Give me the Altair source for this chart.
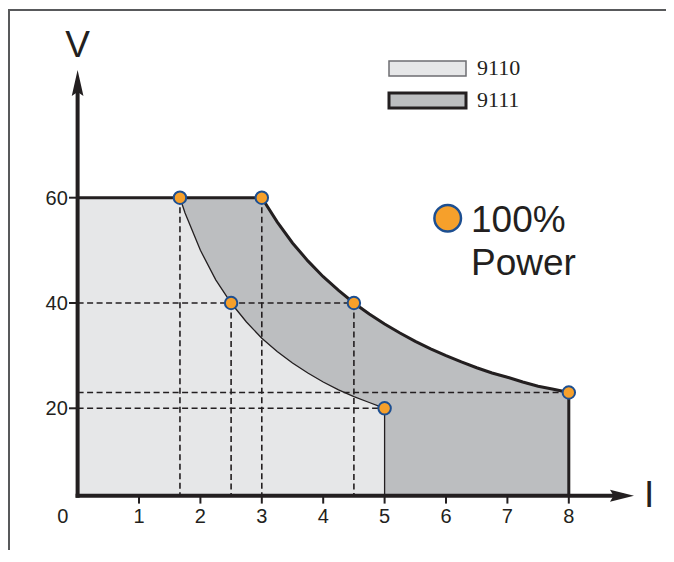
import altair as alt
import pandas as pd

# ---------------- data ----------------
# 9110 (100 W) constant-power boundary
I_9110 = [1.667, 1.75, 2.0, 2.25, 2.5, 2.75, 3.0, 3.25, 3.5, 3.75, 4.0, 4.25, 4.5, 4.75, 5.0]
V_9110 = [60, 57.1, 50, 44.4, 40, 36.4, 33.3, 30.8, 28.6, 26.7, 25, 23.5, 22.2, 21.1, 20]
# 9111 (180 W) constant-power boundary
I_9111 = [3.0, 3.25, 3.5, 3.75, 4.0, 4.25, 4.5, 4.75, 5.0, 5.25, 5.5, 5.75, 6.0, 6.25, 6.5, 6.75, 7.0, 7.25, 7.5, 7.75, 8.0]
V_9111 = [60, 55.4, 51.4, 48, 45, 42.4, 40, 37.9, 36, 34.3, 32.7, 31.3, 30, 28.8, 27.7, 26.7, 25.9, 25.0, 24.2, 23.6, 23.0]
V_MAX = 60

# 100% power points
PTS_I = [1.667, 2.5, 5.0, 3.0, 4.5, 8.0]
PTS_V = [60, 40, 20, 60, 40, 23]

# dashed guide lines
VDASH_I = [1.667, 2.5, 3.0, 4.5]
VDASH_V = [60, 40, 60, 40]
HDASH_V = [40, 23, 20]
HDASH_I = [4.5, 8.0, 5.0]

X_TICKS = [1, 2, 3, 4, 5, 6, 7, 8]
Y_TICKS = [20, 40, 60]
SERIES = ["9110", "9111"]

# axis geometry (data units)
AXIS_V = 3.4        # where the I axis crosses
ARROW_I = 8.866     # centre of the I-axis arrow head
ARROW_V = 81.8      # centre of the V-axis arrow head

# ---------------- styling ----------------
LIGHT = "#e6e7e8"
DARK = "#bcbec0"
INK = "#231f20"
ORANGE = "#f6a02b"
BLUE = "#1d4f91"
SANS = "Liberation Sans"
SERIF = "Liberation Serif"

W, H = 658, 542
xs = alt.Scale(domain=[-1.1336, 9.583], nice=False, zero=False)
ys = alt.Scale(domain=[-6.914, 96.03], nice=False, zero=False)


def X(f="I"):
    return alt.X(f"{f}:Q", scale=xs, axis=None)


def Y(f="V"):
    return alt.Y(f"{f}:Q", scale=ys, axis=None)


one = pd.DataFrame({"k": [0]})

# areas
dark_df = pd.DataFrame({"I": [0] + I_9111, "V": [V_MAX] + V_9111, "B": AXIS_V})
light_df = pd.DataFrame({"I": [0] + I_9110, "V": [V_MAX] + V_9110, "B": AXIS_V})

dark_area = alt.Chart(dark_df).mark_area(color=DARK, opacity=1).encode(
    x=X(), y=Y(), y2="B:Q")
light_area = alt.Chart(light_df).mark_area(color=LIGHT, opacity=1).encode(
    x=X(), y=Y(), y2="B:Q")

# dashed guides
vdash = alt.Chart(pd.DataFrame({"I": VDASH_I, "V": VDASH_V, "B": AXIS_V})).mark_rule(
    color=INK, strokeWidth=1.6, strokeDash=[6, 3.5]).encode(
    x=X(), y=Y(), y2="B:Q")
hdash = alt.Chart(pd.DataFrame({"I": HDASH_I, "V": HDASH_V, "O": 0.0})).mark_rule(
    color=INK, strokeWidth=1.6, strokeDash=[6, 3.5]).encode(
    x=X("O"), x2="I:Q", y=Y())

# boundary lines
thin_df = pd.DataFrame({"I": I_9110 + [5.0], "V": V_9110 + [AXIS_V]})
thin_df["k"] = range(len(thin_df))
thin = alt.Chart(thin_df).mark_line(color=INK, strokeWidth=1.3).encode(
    x=X(), y=Y(), order="k:Q")

thick_df = pd.DataFrame({"I": [0] + I_9111 + [8.0], "V": [V_MAX] + V_9111 + [AXIS_V]})
thick_df["k"] = range(len(thick_df))
thick = alt.Chart(thick_df).mark_line(color=INK, strokeWidth=3, strokeJoin="miter").encode(
    x=X(), y=Y(), order="k:Q")

# axes
yaxis_df = pd.DataFrame({"I": [0.0], "V": [AXIS_V], "V2": [ARROW_V]})
xaxis_df = pd.DataFrame({"I": [0.0], "I2": [ARROW_I], "V": [AXIS_V]})
y_axis = alt.Chart(yaxis_df).mark_rule(color=INK, strokeWidth=4, strokeCap="square").encode(
    x=X(), y=Y(), y2="V2:Q")
x_axis = alt.Chart(xaxis_df).mark_rule(color=INK, strokeWidth=4, strokeCap="square").encode(
    x=X(), x2="I2:Q", y=Y())

arrow_r = alt.Chart(pd.DataFrame({"I": [ARROW_I], "V": [AXIS_V]})).mark_point(
    shape="M-1,-0.5L1,0L-1,0.5L-0.7,0Z", filled=True, color=INK, opacity=1, size=576).encode(
    x=X(), y=Y())
arrow_u = alt.Chart(pd.DataFrame({"I": [0.0], "V": [ARROW_V]})).mark_point(
    shape="M-0.45,1L0,-1L0.45,1L0,0.7Z", filled=True, color=INK, opacity=1, size=676).encode(
    x=X(), y=Y())

xtick_df = pd.DataFrame({"I": X_TICKS, "lab": [str(t) for t in X_TICKS],
                         "T": 1.9, "B": AXIS_V, "L": -1.79})
ytick_df = pd.DataFrame({"V": Y_TICKS, "lab": [str(t) for t in Y_TICKS],
                         "A": -0.14, "Z": 0.0, "LX": -0.16})
ytick_df["VL"] = ytick_df["V"] - 1.35

xticks = alt.Chart(xtick_df).mark_rule(color=INK, strokeWidth=2).encode(
    x=X(), y=Y("T"), y2="B:Q")
yticks = alt.Chart(ytick_df).mark_rule(color=INK, strokeWidth=2).encode(
    x=X("A"), x2="Z:Q", y=Y())

xlabels = alt.Chart(xtick_df).mark_text(
    font=SANS, fontSize=20, color=INK, align="center", baseline="alphabetic").encode(
    x=X(), y=Y("L"), text="lab:N")
ylabels = alt.Chart(ytick_df).mark_text(
    font=SANS, fontSize=20, color=INK, align="right", baseline="alphabetic").encode(
    x=X("LX"), y=Y("VL"), text="lab:N")

# free text in data space: origin label and axis titles
txt_df = pd.DataFrame({"I": [-0.24, 0.0, 9.307], "V": [-1.79, 86.7, 1.25],
                       "t": ["0", "V", "I"], "s": [20, 37, 37]})
texts = alt.Chart(txt_df).mark_text(
    font=SANS, color=INK, align="center", baseline="alphabetic").encode(
    x=X(), y=Y(), text="t:N", size=alt.Size("s:Q", scale=None, legend=None))

# power points
points = alt.Chart(pd.DataFrame({"I": PTS_I, "V": PTS_V})).mark_circle(
    size=155, fill=ORANGE, color=ORANGE, stroke=BLUE, strokeWidth=2, opacity=1).encode(
    x=X(), y=Y())

# legend (drawn by hand, pixel positions of the plot area)
leg_rect1 = alt.Chart(one).mark_rect(fill=LIGHT, stroke="#6d6e71", strokeWidth=1.5).encode(
    x=alt.value(381), x2=alt.value(458), y=alt.value(53), y2=alt.value(68))
leg_rect2 = alt.Chart(one).mark_rect(fill=DARK, stroke=INK, strokeWidth=3).encode(
    x=alt.value(381), x2=alt.value(458), y=alt.value(85), y2=alt.value(100))
leg_t1 = alt.Chart(one).mark_text(text=SERIES[0], font=SERIF, fontSize=22, color=INK,
                                  align="left", baseline="alphabetic").encode(
    x=alt.value(469), y=alt.value(67))
leg_t2 = alt.Chart(one).mark_text(text=SERIES[1], font=SERIF, fontSize=22, color=INK,
                                  align="left", baseline="alphabetic").encode(
    x=alt.value(469), y=alt.value(99))
leg_circle = alt.Chart(one).mark_circle(
    size=707, fill=ORANGE, color=ORANGE, stroke=BLUE, strokeWidth=2.5, opacity=1).encode(
    x=alt.value(439.7), y=alt.value(210.3))
leg_p1 = alt.Chart(one).mark_text(text="100%", font=SANS, fontSize=37, color=INK,
                                  align="left", baseline="alphabetic").encode(
    x=alt.value(463), y=alt.value(224))
leg_p2 = alt.Chart(one).mark_text(text="Power", font=SANS, fontSize=37, color=INK,
                                  align="left", baseline="alphabetic").encode(
    x=alt.value(463), y=alt.value(267))

# frame (left and top edges)
frame_l = alt.Chart(one).mark_rule(color="#58595b", strokeWidth=2).encode(
    x=alt.value(1), y=alt.value(2), y2=alt.value(H))
frame_t = alt.Chart(one).mark_rule(color="#58595b", strokeWidth=2).encode(
    x=alt.value(0), x2=alt.value(W), y=alt.value(2))

chart = alt.layer(
    dark_area, light_area, vdash, hdash, thin, thick,
    xticks, yticks, x_axis, y_axis, arrow_r, arrow_u,
    points, xlabels, ylabels, texts,
    leg_rect1, leg_rect2, leg_t1, leg_t2, leg_circle, leg_p1, leg_p2,
    frame_l, frame_t,
).properties(
    width=W, height=H,
    autosize=alt.AutoSizeParams(type="none"),
    padding={"left": 0, "right": 0, "top": 0, "bottom": 0},
    background="white",
).configure_view(stroke=None)

chart.save("out.html", embed_options={"renderer": "svg", "actions": False})
